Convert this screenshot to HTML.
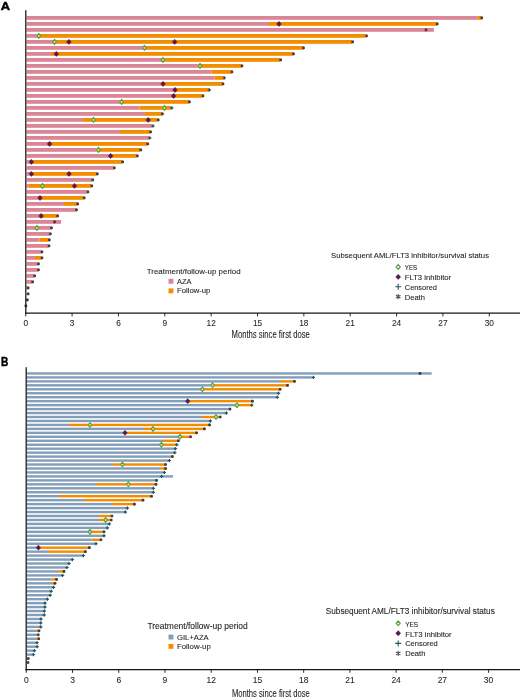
<!DOCTYPE html>
<html><head><meta charset="utf-8"><title>Swimmer plot</title>
<style>html,body{margin:0;padding:0;background:#fff;}svg{display:block;will-change:transform;}</style>
</head><body>
<svg width="520" height="699" viewBox="0 0 520 699" font-family="Liberation Sans, sans-serif">
<rect width="520" height="699" fill="#fff"/>
<text x="0.7" y="9.7" font-size="11.4" font-weight="bold" fill="#000" stroke="#000" stroke-width="0.45" textLength="9.3" lengthAdjust="spacingAndGlyphs">A</text>
<rect x="26.6" y="16" width="451.1" height="3.8" fill="#db8597"/>
<rect x="477.7" y="16" width="3.8" height="3.8" fill="#f48c00"/>
<rect x="26.6" y="22" width="242.4" height="3.8" fill="#db8597"/>
<rect x="269" y="22" width="168" height="3.8" fill="#f48c00"/>
<rect x="26.6" y="28" width="407.2" height="3.8" fill="#db8597"/>
<rect x="26.6" y="34" width="10.9" height="3.8" fill="#db8597"/>
<rect x="37.5" y="34" width="328" height="3.8" fill="#f48c00"/>
<rect x="26.6" y="40" width="27.4" height="3.8" fill="#db8597"/>
<rect x="54" y="40" width="298" height="3.8" fill="#f48c00"/>
<rect x="26.6" y="46" width="116.1" height="3.8" fill="#db8597"/>
<rect x="142.7" y="46" width="160.3" height="3.8" fill="#f48c00"/>
<rect x="26.6" y="52" width="24.4" height="3.8" fill="#db8597"/>
<rect x="51" y="52" width="242" height="3.8" fill="#f48c00"/>
<rect x="26.6" y="58" width="134.4" height="3.8" fill="#db8597"/>
<rect x="161" y="58" width="119" height="3.8" fill="#f48c00"/>
<rect x="26.6" y="64" width="171" height="3.8" fill="#db8597"/>
<rect x="197.6" y="64" width="43.9" height="3.8" fill="#f48c00"/>
<rect x="26.6" y="70" width="184.8" height="3.8" fill="#db8597"/>
<rect x="211.4" y="70" width="20.1" height="3.8" fill="#f48c00"/>
<rect x="26.6" y="76" width="187.9" height="3.8" fill="#db8597"/>
<rect x="214.5" y="76" width="9.5" height="3.8" fill="#f48c00"/>
<rect x="26.6" y="82" width="134.4" height="3.8" fill="#db8597"/>
<rect x="161" y="82" width="61.7" height="3.8" fill="#f48c00"/>
<rect x="26.6" y="88" width="147.4" height="3.8" fill="#db8597"/>
<rect x="174" y="88" width="35" height="3.8" fill="#f48c00"/>
<rect x="26.6" y="94" width="145.8" height="3.8" fill="#db8597"/>
<rect x="172.4" y="94" width="30.2" height="3.8" fill="#f48c00"/>
<rect x="26.6" y="100" width="93.9" height="3.8" fill="#db8597"/>
<rect x="120.5" y="100" width="68.3" height="3.8" fill="#f48c00"/>
<rect x="26.6" y="106" width="112.9" height="3.8" fill="#db8597"/>
<rect x="139.5" y="106" width="31.8" height="3.8" fill="#f48c00"/>
<rect x="26.6" y="112" width="118.4" height="3.8" fill="#db8597"/>
<rect x="145" y="112" width="17" height="3.8" fill="#f48c00"/>
<rect x="26.6" y="118" width="56.4" height="3.8" fill="#db8597"/>
<rect x="83" y="118" width="74.6" height="3.8" fill="#f48c00"/>
<rect x="26.6" y="124" width="125.8" height="3.8" fill="#db8597"/>
<rect x="26.6" y="130" width="93.4" height="3.8" fill="#db8597"/>
<rect x="120" y="130" width="30.2" height="3.8" fill="#f48c00"/>
<rect x="26.6" y="136" width="122.6" height="3.8" fill="#db8597"/>
<rect x="26.6" y="142" width="21.4" height="3.8" fill="#db8597"/>
<rect x="48" y="142" width="99.2" height="3.8" fill="#f48c00"/>
<rect x="26.6" y="148" width="70" height="3.8" fill="#db8597"/>
<rect x="96.6" y="148" width="43.6" height="3.8" fill="#f48c00"/>
<rect x="26.6" y="154" width="82.4" height="3.8" fill="#db8597"/>
<rect x="109" y="154" width="27.6" height="3.8" fill="#f48c00"/>
<rect x="26.6" y="160" width="3.4" height="3.8" fill="#db8597"/>
<rect x="30" y="160" width="92" height="3.8" fill="#f48c00"/>
<rect x="26.6" y="166" width="87.2" height="3.8" fill="#db8597"/>
<rect x="26.6" y="172" width="3.4" height="3.8" fill="#db8597"/>
<rect x="30" y="172" width="66.8" height="3.8" fill="#f48c00"/>
<rect x="26.6" y="178" width="65.6" height="3.8" fill="#db8597"/>
<rect x="26.6" y="184" width="1.9" height="3.8" fill="#db8597"/>
<rect x="28.5" y="184" width="62.7" height="3.8" fill="#f48c00"/>
<rect x="26.6" y="190" width="60.8" height="3.8" fill="#db8597"/>
<rect x="26.6" y="196" width="12.4" height="3.8" fill="#db8597"/>
<rect x="39" y="196" width="44.6" height="3.8" fill="#f48c00"/>
<rect x="26.6" y="202" width="37.4" height="3.8" fill="#db8597"/>
<rect x="64" y="202" width="13.2" height="3.8" fill="#f48c00"/>
<rect x="26.6" y="208" width="49.4" height="3.8" fill="#db8597"/>
<rect x="26.6" y="214" width="13.4" height="3.8" fill="#db8597"/>
<rect x="40" y="214" width="17.2" height="3.8" fill="#f48c00"/>
<rect x="26.6" y="220" width="34.4" height="3.8" fill="#db8597"/>
<rect x="26.6" y="226" width="24.2" height="3.8" fill="#db8597"/>
<rect x="26.6" y="232" width="23" height="3.8" fill="#db8597"/>
<rect x="26.6" y="238" width="13" height="3.8" fill="#db8597"/>
<rect x="39.6" y="238" width="9" height="3.8" fill="#f48c00"/>
<rect x="26.6" y="244" width="21.8" height="3.8" fill="#db8597"/>
<rect x="26.6" y="250" width="14.8" height="3.8" fill="#db8597"/>
<rect x="26.6" y="256" width="8.4" height="3.8" fill="#db8597"/>
<rect x="35" y="256" width="6.4" height="3.8" fill="#f48c00"/>
<rect x="26.6" y="262" width="11.2" height="3.8" fill="#db8597"/>
<rect x="26.6" y="268" width="11.2" height="3.8" fill="#db8597"/>
<rect x="26.6" y="274" width="7.4" height="3.8" fill="#db8597"/>
<rect x="26.6" y="280" width="5.4" height="3.8" fill="#db8597"/>
<rect x="26.6" y="286" width="1" height="3.8" fill="#db8597"/>
<path d="M481.8 16.5V19.3M480.59 17.2L483.01 18.6M480.59 18.6L483.01 17.2" stroke="#433a3c" stroke-width="0.7" fill="none"/><circle cx="481.8" cy="17.9" r="1.33" fill="#433a3c"/>
<path d="M279 21.2L281.4 23.9L279 26.6L276.6 23.9Z" fill="#561852" stroke="#561852" stroke-width="0.4"/>
<path d="M437.2 22.5V25.3M435.99 23.2L438.41 24.6M435.99 24.6L438.41 23.2" stroke="#433a3c" stroke-width="0.7" fill="none"/><circle cx="437.2" cy="23.9" r="1.33" fill="#433a3c"/>
<path d="M426 28.5V31.3M424.79 29.2L427.21 30.6M424.79 30.6L427.21 29.2" stroke="#433a3c" stroke-width="0.7" fill="none"/><circle cx="426" cy="29.9" r="1.33" fill="#433a3c"/>
<path d="M38.8 33.4L40.7 35.9L38.8 38.4L36.9 35.9Z" fill="#c6df8e" stroke="#5a9f44" stroke-width="1.1"/>
<path d="M366.5 34.5V37.3M365.29 35.2L367.71 36.6M365.29 36.6L367.71 35.2" stroke="#433a3c" stroke-width="0.7" fill="none"/><circle cx="366.5" cy="35.9" r="1.33" fill="#433a3c"/>
<path d="M54.6 39.4L56.5 41.9L54.6 44.4L52.7 41.9Z" fill="#c6df8e" stroke="#5a9f44" stroke-width="1.1"/>
<path d="M68.9 39.2L71.3 41.9L68.9 44.6L66.5 41.9Z" fill="#561852" stroke="#561852" stroke-width="0.4"/>
<path d="M174.7 39.2L177.1 41.9L174.7 44.6L172.3 41.9Z" fill="#561852" stroke="#561852" stroke-width="0.4"/>
<path d="M352.7 40.5V43.3M351.49 41.2L353.91 42.6M351.49 42.6L353.91 41.2" stroke="#433a3c" stroke-width="0.7" fill="none"/><circle cx="352.7" cy="41.9" r="1.33" fill="#433a3c"/>
<path d="M144.4 45.4L146.3 47.9L144.4 50.4L142.5 47.9Z" fill="#c6df8e" stroke="#5a9f44" stroke-width="1.1"/>
<path d="M303.5 46.5V49.3M302.29 47.2L304.71 48.6M302.29 48.6L304.71 47.2" stroke="#433a3c" stroke-width="0.7" fill="none"/><circle cx="303.5" cy="47.9" r="1.33" fill="#433a3c"/>
<path d="M56.3 51.2L58.7 53.9L56.3 56.6L53.9 53.9Z" fill="#561852" stroke="#561852" stroke-width="0.4"/>
<path d="M293.5 52.5V55.3M292.29 53.2L294.71 54.6M292.29 54.6L294.71 53.2" stroke="#433a3c" stroke-width="0.7" fill="none"/><circle cx="293.5" cy="53.9" r="1.33" fill="#433a3c"/>
<path d="M162.9 57.4L164.8 59.9L162.9 62.4L161 59.9Z" fill="#c6df8e" stroke="#5a9f44" stroke-width="1.1"/>
<path d="M280.7 58.5V61.3M279.49 59.2L281.91 60.6M279.49 60.6L281.91 59.2" stroke="#433a3c" stroke-width="0.7" fill="none"/><circle cx="280.7" cy="59.9" r="1.33" fill="#433a3c"/>
<path d="M200 63.4L201.9 65.9L200 68.4L198.1 65.9Z" fill="#c6df8e" stroke="#5a9f44" stroke-width="1.1"/>
<path d="M242 64.5V67.3M240.79 65.2L243.21 66.6M240.79 66.6L243.21 65.2" stroke="#433a3c" stroke-width="0.7" fill="none"/><circle cx="242" cy="65.9" r="1.33" fill="#433a3c"/>
<path d="M232 70.5V73.3M230.79 71.2L233.21 72.6M230.79 72.6L233.21 71.2" stroke="#433a3c" stroke-width="0.7" fill="none"/><circle cx="232" cy="71.9" r="1.33" fill="#433a3c"/>
<path d="M224.4 76.22V79.58M222.72 77.9H226.08" stroke="#24555c" stroke-width="1.0" fill="none"/><path d="M224.4 76.64L225.66 77.9L224.4 79.16L223.14 77.9Z" fill="#24555c"/>
<path d="M163 81.2L165.4 83.9L163 86.6L160.6 83.9Z" fill="#561852" stroke="#561852" stroke-width="0.4"/>
<path d="M223 82.5V85.3M221.79 83.2L224.21 84.6M221.79 84.6L224.21 83.2" stroke="#433a3c" stroke-width="0.7" fill="none"/><circle cx="223" cy="83.9" r="1.33" fill="#433a3c"/>
<path d="M175 87.2L177.4 89.9L175 92.6L172.6 89.9Z" fill="#561852" stroke="#561852" stroke-width="0.4"/>
<path d="M209.4 88.22V91.58M207.72 89.9H211.08" stroke="#24555c" stroke-width="1.0" fill="none"/><path d="M209.4 88.64L210.66 89.9L209.4 91.16L208.14 89.9Z" fill="#24555c"/>
<path d="M173.6 93.2L176 95.9L173.6 98.6L171.2 95.9Z" fill="#561852" stroke="#561852" stroke-width="0.4"/>
<path d="M203 94.5V97.3M201.79 95.2L204.21 96.6M201.79 96.6L204.21 95.2" stroke="#433a3c" stroke-width="0.7" fill="none"/><circle cx="203" cy="95.9" r="1.33" fill="#433a3c"/>
<path d="M121.6 99.4L123.5 101.9L121.6 104.4L119.7 101.9Z" fill="#c6df8e" stroke="#5a9f44" stroke-width="1.1"/>
<path d="M189.4 100.5V103.3M188.19 101.2L190.61 102.6M188.19 102.6L190.61 101.2" stroke="#433a3c" stroke-width="0.7" fill="none"/><circle cx="189.4" cy="101.9" r="1.33" fill="#433a3c"/>
<path d="M164.4 105.4L166.3 107.9L164.4 110.4L162.5 107.9Z" fill="#c6df8e" stroke="#5a9f44" stroke-width="1.1"/>
<path d="M171.8 106.22V109.58M170.12 107.9H173.48" stroke="#24555c" stroke-width="1.0" fill="none"/><path d="M171.8 106.64L173.06 107.9L171.8 109.16L170.54 107.9Z" fill="#24555c"/>
<path d="M162.4 112.5V115.3M161.19 113.2L163.61 114.6M161.19 114.6L163.61 113.2" stroke="#433a3c" stroke-width="0.7" fill="none"/><circle cx="162.4" cy="113.9" r="1.33" fill="#433a3c"/>
<path d="M93.4 117.4L95.3 119.9L93.4 122.4L91.5 119.9Z" fill="#c6df8e" stroke="#5a9f44" stroke-width="1.1"/>
<path d="M148.2 117.2L150.6 119.9L148.2 122.6L145.8 119.9Z" fill="#561852" stroke="#561852" stroke-width="0.4"/>
<path d="M158.2 118.5V121.3M156.99 119.2L159.41 120.6M156.99 120.6L159.41 119.2" stroke="#433a3c" stroke-width="0.7" fill="none"/><circle cx="158.2" cy="119.9" r="1.33" fill="#433a3c"/>
<path d="M153 124.22V127.58M151.32 125.9H154.68" stroke="#24555c" stroke-width="1.0" fill="none"/><path d="M153 124.64L154.26 125.9L153 127.16L151.74 125.9Z" fill="#24555c"/>
<path d="M150.6 130.5V133.3M149.39 131.2L151.81 132.6M149.39 132.6L151.81 131.2" stroke="#433a3c" stroke-width="0.7" fill="none"/><circle cx="150.6" cy="131.9" r="1.33" fill="#433a3c"/>
<path d="M149.8 136.22V139.58M148.12 137.9H151.48" stroke="#24555c" stroke-width="1.0" fill="none"/><path d="M149.8 136.64L151.06 137.9L149.8 139.16L148.54 137.9Z" fill="#24555c"/>
<path d="M49.6 141.2L52 143.9L49.6 146.6L47.2 143.9Z" fill="#561852" stroke="#561852" stroke-width="0.4"/>
<path d="M147.8 142.5V145.3M146.59 143.2L149.01 144.6M146.59 144.6L149.01 143.2" stroke="#433a3c" stroke-width="0.7" fill="none"/><circle cx="147.8" cy="143.9" r="1.33" fill="#433a3c"/>
<path d="M98.4 147.4L100.3 149.9L98.4 152.4L96.5 149.9Z" fill="#c6df8e" stroke="#5a9f44" stroke-width="1.1"/>
<path d="M140.8 148.5V151.3M139.59 149.2L142.01 150.6M139.59 150.6L142.01 149.2" stroke="#433a3c" stroke-width="0.7" fill="none"/><circle cx="140.8" cy="149.9" r="1.33" fill="#433a3c"/>
<path d="M110.6 153.2L113 155.9L110.6 158.6L108.2 155.9Z" fill="#561852" stroke="#561852" stroke-width="0.4"/>
<path d="M137.3 154.5V157.3M136.09 155.2L138.51 156.6M136.09 156.6L138.51 155.2" stroke="#433a3c" stroke-width="0.7" fill="none"/><circle cx="137.3" cy="155.9" r="1.33" fill="#433a3c"/>
<path d="M31.4 159.2L33.8 161.9L31.4 164.6L29 161.9Z" fill="#561852" stroke="#561852" stroke-width="0.4"/>
<path d="M122.7 160.5V163.3M121.49 161.2L123.91 162.6M121.49 162.6L123.91 161.2" stroke="#433a3c" stroke-width="0.7" fill="none"/><circle cx="122.7" cy="161.9" r="1.33" fill="#433a3c"/>
<path d="M114.3 166.5V169.3M113.09 167.2L115.51 168.6M113.09 168.6L115.51 167.2" stroke="#433a3c" stroke-width="0.7" fill="none"/><circle cx="114.3" cy="167.9" r="1.33" fill="#433a3c"/>
<path d="M31.4 171.2L33.8 173.9L31.4 176.6L29 173.9Z" fill="#561852" stroke="#561852" stroke-width="0.4"/>
<path d="M69 171.2L71.4 173.9L69 176.6L66.6 173.9Z" fill="#561852" stroke="#561852" stroke-width="0.4"/>
<path d="M97.3 172.5V175.3M96.09 173.2L98.51 174.6M96.09 174.6L98.51 173.2" stroke="#433a3c" stroke-width="0.7" fill="none"/><circle cx="97.3" cy="173.9" r="1.33" fill="#433a3c"/>
<path d="M92.8 178.5V181.3M91.59 179.2L94.01 180.6M91.59 180.6L94.01 179.2" stroke="#433a3c" stroke-width="0.7" fill="none"/><circle cx="92.8" cy="179.9" r="1.33" fill="#433a3c"/>
<path d="M42.5 183.4L44.4 185.9L42.5 188.4L40.6 185.9Z" fill="#c6df8e" stroke="#5a9f44" stroke-width="1.1"/>
<path d="M74.5 183.2L76.9 185.9L74.5 188.6L72.1 185.9Z" fill="#561852" stroke="#561852" stroke-width="0.4"/>
<path d="M91.8 184.5V187.3M90.59 185.2L93.01 186.6M90.59 186.6L93.01 185.2" stroke="#433a3c" stroke-width="0.7" fill="none"/><circle cx="91.8" cy="185.9" r="1.33" fill="#433a3c"/>
<path d="M88 190.5V193.3M86.79 191.2L89.21 192.6M86.79 192.6L89.21 191.2" stroke="#433a3c" stroke-width="0.7" fill="none"/><circle cx="88" cy="191.9" r="1.33" fill="#433a3c"/>
<path d="M40 195.2L42.4 197.9L40 200.6L37.6 197.9Z" fill="#561852" stroke="#561852" stroke-width="0.4"/>
<path d="M84.2 196.5V199.3M82.99 197.2L85.41 198.6M82.99 198.6L85.41 197.2" stroke="#433a3c" stroke-width="0.7" fill="none"/><circle cx="84.2" cy="197.9" r="1.33" fill="#433a3c"/>
<path d="M77.7 202.5V205.3M76.49 203.2L78.91 204.6M76.49 204.6L78.91 203.2" stroke="#433a3c" stroke-width="0.7" fill="none"/><circle cx="77.7" cy="203.9" r="1.33" fill="#433a3c"/>
<path d="M76.5 208.5V211.3M75.29 209.2L77.71 210.6M75.29 210.6L77.71 209.2" stroke="#433a3c" stroke-width="0.7" fill="none"/><circle cx="76.5" cy="209.9" r="1.33" fill="#433a3c"/>
<path d="M41.1 213.2L43.5 215.9L41.1 218.6L38.7 215.9Z" fill="#561852" stroke="#561852" stroke-width="0.4"/>
<path d="M57.7 214.5V217.3M56.49 215.2L58.91 216.6M56.49 216.6L58.91 215.2" stroke="#433a3c" stroke-width="0.7" fill="none"/><circle cx="57.7" cy="215.9" r="1.33" fill="#433a3c"/>
<path d="M54.6 220.5V223.3M53.39 221.2L55.81 222.6M53.39 222.6L55.81 221.2" stroke="#433a3c" stroke-width="0.7" fill="none"/><circle cx="54.6" cy="221.9" r="1.33" fill="#433a3c"/>
<path d="M36.9 225.4L38.8 227.9L36.9 230.4L35 227.9Z" fill="#c6df8e" stroke="#5a9f44" stroke-width="1.1"/>
<path d="M51.5 226.5V229.3M50.29 227.2L52.71 228.6M50.29 228.6L52.71 227.2" stroke="#433a3c" stroke-width="0.7" fill="none"/><circle cx="51.5" cy="227.9" r="1.33" fill="#433a3c"/>
<path d="M50.3 232.5V235.3M49.09 233.2L51.51 234.6M49.09 234.6L51.51 233.2" stroke="#433a3c" stroke-width="0.7" fill="none"/><circle cx="50.3" cy="233.9" r="1.33" fill="#433a3c"/>
<path d="M49.3 238.5V241.3M48.09 239.2L50.51 240.6M48.09 240.6L50.51 239.2" stroke="#433a3c" stroke-width="0.7" fill="none"/><circle cx="49.3" cy="239.9" r="1.33" fill="#433a3c"/>
<path d="M49 244.5V247.3M47.79 245.2L50.21 246.6M47.79 246.6L50.21 245.2" stroke="#433a3c" stroke-width="0.7" fill="none"/><circle cx="49" cy="245.9" r="1.33" fill="#433a3c"/>
<path d="M42 250.5V253.3M40.79 251.2L43.21 252.6M40.79 252.6L43.21 251.2" stroke="#433a3c" stroke-width="0.7" fill="none"/><circle cx="42" cy="251.9" r="1.33" fill="#433a3c"/>
<path d="M42 256.5V259.3M40.79 257.2L43.21 258.6M40.79 258.6L43.21 257.2" stroke="#433a3c" stroke-width="0.7" fill="none"/><circle cx="42" cy="257.9" r="1.33" fill="#433a3c"/>
<path d="M38.5 262.5V265.3M37.29 263.2L39.71 264.6M37.29 264.6L39.71 263.2" stroke="#433a3c" stroke-width="0.7" fill="none"/><circle cx="38.5" cy="263.9" r="1.33" fill="#433a3c"/>
<path d="M38.4 268.5V271.3M37.19 269.2L39.61 270.6M37.19 270.6L39.61 269.2" stroke="#433a3c" stroke-width="0.7" fill="none"/><circle cx="38.4" cy="269.9" r="1.33" fill="#433a3c"/>
<path d="M34.7 274.5V277.3M33.49 275.2L35.91 276.6M33.49 276.6L35.91 275.2" stroke="#433a3c" stroke-width="0.7" fill="none"/><circle cx="34.7" cy="275.9" r="1.33" fill="#433a3c"/>
<path d="M32.7 280.5V283.3M31.49 281.2L33.91 282.6M31.49 282.6L33.91 281.2" stroke="#433a3c" stroke-width="0.7" fill="none"/><circle cx="32.7" cy="281.9" r="1.33" fill="#433a3c"/>
<path d="M28.1 286.5V289.3M26.89 287.2L29.31 288.6M26.89 288.6L29.31 287.2" stroke="#433a3c" stroke-width="0.7" fill="none"/><circle cx="28.1" cy="287.9" r="1.33" fill="#433a3c"/>
<path d="M28.1 292.5V295.3M26.89 293.2L29.31 294.6M26.89 294.6L29.31 293.2" stroke="#433a3c" stroke-width="0.7" fill="none"/><circle cx="28.1" cy="293.9" r="1.33" fill="#433a3c"/>
<path d="M27.3 298.5V301.3M26.09 299.2L28.51 300.6M26.09 300.6L28.51 299.2" stroke="#433a3c" stroke-width="0.7" fill="none"/><circle cx="27.3" cy="299.9" r="1.33" fill="#433a3c"/>
<path d="M25.9 304.5V307.3M24.69 305.2L27.11 306.6M24.69 306.6L27.11 305.2" stroke="#433a3c" stroke-width="0.7" fill="none"/><circle cx="25.9" cy="305.9" r="1.33" fill="#433a3c"/>
<line x1="25.8" y1="10.2" x2="25.8" y2="313.8" stroke="#151515" stroke-width="1.25"/>
<line x1="25.2" y1="313.2" x2="520" y2="313.2" stroke="#151515" stroke-width="1.25"/>
<line x1="25.75" y1="313.2" x2="25.75" y2="316.4" stroke="#151515" stroke-width="0.9"/>
<text x="25.75" y="325.8" font-size="8.3" text-anchor="middle" fill="#231f20" stroke="#231f20" stroke-width="0.08">0</text>
<line x1="72.1" y1="313.2" x2="72.1" y2="316.4" stroke="#151515" stroke-width="0.9"/>
<text x="72.1" y="325.8" font-size="8.3" text-anchor="middle" fill="#231f20" stroke="#231f20" stroke-width="0.08">3</text>
<line x1="118.45" y1="313.2" x2="118.45" y2="316.4" stroke="#151515" stroke-width="0.9"/>
<text x="118.45" y="325.8" font-size="8.3" text-anchor="middle" fill="#231f20" stroke="#231f20" stroke-width="0.08">6</text>
<line x1="164.8" y1="313.2" x2="164.8" y2="316.4" stroke="#151515" stroke-width="0.9"/>
<text x="164.8" y="325.8" font-size="8.3" text-anchor="middle" fill="#231f20" stroke="#231f20" stroke-width="0.08">9</text>
<line x1="211.15" y1="313.2" x2="211.15" y2="316.4" stroke="#151515" stroke-width="0.9"/>
<text x="211.15" y="325.8" font-size="8.3" text-anchor="middle" fill="#231f20" stroke="#231f20" stroke-width="0.08">12</text>
<line x1="257.5" y1="313.2" x2="257.5" y2="316.4" stroke="#151515" stroke-width="0.9"/>
<text x="257.5" y="325.8" font-size="8.3" text-anchor="middle" fill="#231f20" stroke="#231f20" stroke-width="0.08">15</text>
<line x1="303.85" y1="313.2" x2="303.85" y2="316.4" stroke="#151515" stroke-width="0.9"/>
<text x="303.85" y="325.8" font-size="8.3" text-anchor="middle" fill="#231f20" stroke="#231f20" stroke-width="0.08">18</text>
<line x1="350.2" y1="313.2" x2="350.2" y2="316.4" stroke="#151515" stroke-width="0.9"/>
<text x="350.2" y="325.8" font-size="8.3" text-anchor="middle" fill="#231f20" stroke="#231f20" stroke-width="0.08">21</text>
<line x1="396.55" y1="313.2" x2="396.55" y2="316.4" stroke="#151515" stroke-width="0.9"/>
<text x="396.55" y="325.8" font-size="8.3" text-anchor="middle" fill="#231f20" stroke="#231f20" stroke-width="0.08">24</text>
<line x1="442.9" y1="313.2" x2="442.9" y2="316.4" stroke="#151515" stroke-width="0.9"/>
<text x="442.9" y="325.8" font-size="8.3" text-anchor="middle" fill="#231f20" stroke="#231f20" stroke-width="0.08">27</text>
<line x1="489.25" y1="313.2" x2="489.25" y2="316.4" stroke="#151515" stroke-width="0.9"/>
<text x="489.25" y="325.8" font-size="8.3" text-anchor="middle" fill="#231f20" stroke="#231f20" stroke-width="0.08">30</text>
<text x="231.6" y="338.1" font-size="10" fill="#231f20" stroke="#231f20" stroke-width="0.1" textLength="78.2" lengthAdjust="spacingAndGlyphs">Months since first dose</text>
<text x="146.8" y="273.5" font-size="8" fill="#231f20" stroke="#231f20" stroke-width="0.1" textLength="93.8" lengthAdjust="spacingAndGlyphs">Treatment/follow-up period</text>
<rect x="168.5" y="278.8" width="4.9" height="4.9" fill="#db8597"/>
<rect x="168.5" y="288.4" width="4.9" height="4.9" fill="#f48c00"/>
<text x="177" y="283.6" font-size="7.7" fill="#231f20" stroke="#231f20" stroke-width="0.1" textLength="14.4" lengthAdjust="spacingAndGlyphs">AZA</text>
<text x="177" y="293.4" font-size="7.7" fill="#231f20" stroke="#231f20" stroke-width="0.1" textLength="33.4" lengthAdjust="spacingAndGlyphs">Follow-up</text>
<text x="331.1" y="257.9" font-size="8.1" fill="#231f20" stroke="#231f20" stroke-width="0.1" textLength="157.9" lengthAdjust="spacingAndGlyphs">Subsequent AML/FLT3 inhibitor/survival status</text>
<path d="M398.2 264.7L400.2 267L398.2 269.3L396.2 267Z" fill="#ffffff" stroke="#5a9f44" stroke-width="1.2"/>
<path d="M398.2 274.2L400.7 276.9L398.2 279.6L395.7 276.9Z" fill="#561852" stroke="#561852" stroke-width="0.4"/>
<path d="M398.2 283.7V289.7M395.2 286.7H401.2" stroke="#24555c" stroke-width="1.1"/>
<path d="M398.2 294V299.2M395.95 295.3L400.45 297.9M395.95 297.9L400.45 295.3" stroke="#4a5458" stroke-width="1.1" fill="none"/>
<text x="404.8" y="270.3" font-size="7.6" fill="#231f20" stroke="#231f20" stroke-width="0.1" textLength="12.3" lengthAdjust="spacingAndGlyphs">YES</text>
<text x="404.8" y="280" font-size="7.6" fill="#231f20" stroke="#231f20" stroke-width="0.1" textLength="46.3" lengthAdjust="spacingAndGlyphs">FLT3 inhibitor</text>
<text x="404.8" y="289.8" font-size="7.6" fill="#231f20" stroke="#231f20" stroke-width="0.1" textLength="32.1" lengthAdjust="spacingAndGlyphs">Censored</text>
<text x="404.8" y="299.6" font-size="7.6" fill="#231f20" stroke="#231f20" stroke-width="0.1" textLength="20.1" lengthAdjust="spacingAndGlyphs">Death</text>
<text x="0.9" y="365.6" font-size="12.0" font-weight="bold" fill="#000" stroke="#000" stroke-width="0.45" textLength="7.3" lengthAdjust="spacingAndGlyphs">B</text>
<rect x="26.6" y="372.25" width="405.1" height="2.4" fill="#829eba"/>
<rect x="26.6" y="376.21" width="286.7" height="2.4" fill="#829eba"/>
<rect x="26.6" y="380.17" width="253.4" height="2.4" fill="#829eba"/>
<rect x="280" y="380.17" width="14.2" height="2.4" fill="#f48c00"/>
<rect x="26.6" y="384.13" width="184.4" height="2.4" fill="#829eba"/>
<rect x="211" y="384.13" width="76.3" height="2.4" fill="#f48c00"/>
<rect x="26.6" y="388.09" width="174.4" height="2.4" fill="#829eba"/>
<rect x="201" y="388.09" width="78.8" height="2.4" fill="#f48c00"/>
<rect x="26.6" y="392.05" width="251.7" height="2.4" fill="#829eba"/>
<rect x="26.6" y="396.01" width="250.4" height="2.4" fill="#829eba"/>
<rect x="26.6" y="399.97" width="159.9" height="2.4" fill="#829eba"/>
<rect x="186.5" y="399.97" width="65.5" height="2.4" fill="#f48c00"/>
<rect x="26.6" y="403.93" width="209.4" height="2.4" fill="#829eba"/>
<rect x="236" y="403.93" width="15.6" height="2.4" fill="#f48c00"/>
<rect x="26.6" y="407.89" width="203" height="2.4" fill="#829eba"/>
<rect x="26.6" y="411.85" width="199.4" height="2.4" fill="#829eba"/>
<rect x="26.6" y="415.81" width="175.4" height="2.4" fill="#829eba"/>
<rect x="202" y="415.81" width="18" height="2.4" fill="#f48c00"/>
<rect x="26.6" y="419.77" width="183.4" height="2.4" fill="#829eba"/>
<rect x="26.6" y="423.73" width="42.4" height="2.4" fill="#829eba"/>
<rect x="69" y="423.73" width="140" height="2.4" fill="#f48c00"/>
<rect x="26.6" y="427.69" width="117.4" height="2.4" fill="#829eba"/>
<rect x="144" y="427.69" width="60" height="2.4" fill="#f48c00"/>
<rect x="26.6" y="431.65" width="97.4" height="2.4" fill="#829eba"/>
<rect x="124" y="431.65" width="72" height="2.4" fill="#f48c00"/>
<rect x="26.6" y="435.61" width="152.4" height="2.4" fill="#829eba"/>
<rect x="179" y="435.61" width="11" height="2.4" fill="#f48c00"/>
<rect x="26.6" y="439.57" width="136.4" height="2.4" fill="#829eba"/>
<rect x="163" y="439.57" width="15" height="2.4" fill="#f48c00"/>
<rect x="26.6" y="443.53" width="133.4" height="2.4" fill="#829eba"/>
<rect x="160" y="443.53" width="16.4" height="2.4" fill="#f48c00"/>
<rect x="26.6" y="447.49" width="148.4" height="2.4" fill="#829eba"/>
<rect x="26.6" y="451.45" width="147.8" height="2.4" fill="#829eba"/>
<rect x="26.6" y="455.41" width="143.4" height="2.4" fill="#829eba"/>
<rect x="170" y="455.41" width="2" height="2.4" fill="#f48c00"/>
<rect x="26.6" y="459.37" width="142.4" height="2.4" fill="#829eba"/>
<rect x="26.6" y="463.33" width="85.4" height="2.4" fill="#829eba"/>
<rect x="112" y="463.33" width="53" height="2.4" fill="#f48c00"/>
<rect x="26.6" y="467.29" width="133.4" height="2.4" fill="#829eba"/>
<rect x="160" y="467.29" width="5" height="2.4" fill="#f48c00"/>
<rect x="26.6" y="471.25" width="137.4" height="2.4" fill="#829eba"/>
<rect x="26.6" y="475.21" width="146.4" height="2.4" fill="#829eba"/>
<rect x="26.6" y="479.17" width="129.4" height="2.4" fill="#829eba"/>
<rect x="26.6" y="483.13" width="69.4" height="2.4" fill="#829eba"/>
<rect x="96" y="483.13" width="59.6" height="2.4" fill="#f48c00"/>
<rect x="26.6" y="487.09" width="126.4" height="2.4" fill="#829eba"/>
<rect x="26.6" y="491.05" width="126.4" height="2.4" fill="#829eba"/>
<rect x="26.6" y="495.01" width="32.4" height="2.4" fill="#829eba"/>
<rect x="59" y="495.01" width="92" height="2.4" fill="#f48c00"/>
<rect x="26.6" y="498.97" width="57.4" height="2.4" fill="#829eba"/>
<rect x="84" y="498.97" width="58.4" height="2.4" fill="#f48c00"/>
<rect x="26.6" y="502.93" width="85.4" height="2.4" fill="#829eba"/>
<rect x="112" y="502.93" width="22" height="2.4" fill="#f48c00"/>
<rect x="26.6" y="506.89" width="100.4" height="2.4" fill="#829eba"/>
<rect x="26.6" y="510.85" width="98.4" height="2.4" fill="#829eba"/>
<rect x="26.6" y="514.81" width="72.4" height="2.4" fill="#829eba"/>
<rect x="99" y="514.81" width="12" height="2.4" fill="#f48c00"/>
<rect x="26.6" y="518.77" width="72.4" height="2.4" fill="#829eba"/>
<rect x="99" y="518.77" width="11.5" height="2.4" fill="#f48c00"/>
<rect x="26.6" y="522.73" width="82.4" height="2.4" fill="#829eba"/>
<rect x="26.6" y="526.69" width="80.4" height="2.4" fill="#829eba"/>
<rect x="26.6" y="530.65" width="62.4" height="2.4" fill="#829eba"/>
<rect x="89" y="530.65" width="14.6" height="2.4" fill="#f48c00"/>
<rect x="26.6" y="534.61" width="77" height="2.4" fill="#829eba"/>
<rect x="26.6" y="538.57" width="65" height="2.4" fill="#829eba"/>
<rect x="91.6" y="538.57" width="8.8" height="2.4" fill="#f48c00"/>
<rect x="26.6" y="542.53" width="69" height="2.4" fill="#829eba"/>
<rect x="26.6" y="546.49" width="10.4" height="2.4" fill="#829eba"/>
<rect x="37" y="546.49" width="52" height="2.4" fill="#f48c00"/>
<rect x="26.6" y="550.45" width="21.4" height="2.4" fill="#829eba"/>
<rect x="48" y="550.45" width="37" height="2.4" fill="#f48c00"/>
<rect x="26.6" y="554.41" width="56.4" height="2.4" fill="#829eba"/>
<rect x="26.6" y="558.37" width="45.4" height="2.4" fill="#829eba"/>
<rect x="26.6" y="562.33" width="42" height="2.4" fill="#829eba"/>
<rect x="26.6" y="566.29" width="40" height="2.4" fill="#829eba"/>
<rect x="26.6" y="570.25" width="31.4" height="2.4" fill="#829eba"/>
<rect x="58" y="570.25" width="5.5" height="2.4" fill="#f48c00"/>
<rect x="26.6" y="574.21" width="35.4" height="2.4" fill="#829eba"/>
<rect x="26.6" y="578.17" width="25" height="2.4" fill="#829eba"/>
<rect x="51.6" y="578.17" width="4.4" height="2.4" fill="#f48c00"/>
<rect x="26.6" y="582.13" width="25.4" height="2.4" fill="#829eba"/>
<rect x="52" y="582.13" width="2.4" height="2.4" fill="#f48c00"/>
<rect x="26.6" y="586.09" width="26.4" height="2.4" fill="#829eba"/>
<rect x="26.6" y="590.05" width="24" height="2.4" fill="#829eba"/>
<rect x="26.6" y="594.01" width="23" height="2.4" fill="#829eba"/>
<rect x="26.6" y="597.97" width="20.4" height="2.4" fill="#829eba"/>
<rect x="26.6" y="601.93" width="17.8" height="2.4" fill="#829eba"/>
<rect x="26.6" y="605.89" width="17.8" height="2.4" fill="#829eba"/>
<rect x="26.6" y="609.85" width="17.4" height="2.4" fill="#829eba"/>
<rect x="26.6" y="613.81" width="17" height="2.4" fill="#829eba"/>
<rect x="26.6" y="617.77" width="13.9" height="2.4" fill="#829eba"/>
<rect x="26.6" y="621.73" width="13.9" height="2.4" fill="#829eba"/>
<rect x="26.6" y="625.69" width="13.4" height="2.4" fill="#829eba"/>
<rect x="26.6" y="629.65" width="9.4" height="2.4" fill="#829eba"/>
<rect x="36" y="629.65" width="2.5" height="2.4" fill="#f48c00"/>
<rect x="26.6" y="633.61" width="11.4" height="2.4" fill="#829eba"/>
<rect x="26.6" y="637.57" width="9.4" height="2.4" fill="#829eba"/>
<rect x="36" y="637.57" width="2" height="2.4" fill="#f48c00"/>
<rect x="26.6" y="641.53" width="9.9" height="2.4" fill="#829eba"/>
<rect x="26.6" y="645.49" width="9.9" height="2.4" fill="#829eba"/>
<rect x="26.6" y="649.45" width="7.4" height="2.4" fill="#829eba"/>
<rect x="26.6" y="653.41" width="6.4" height="2.4" fill="#829eba"/>
<path d="M420 372.05V374.85M418.79 372.75L421.21 374.15M418.79 374.15L421.21 372.75" stroke="#433a3c" stroke-width="0.7" fill="none"/><circle cx="420" cy="373.45" r="1.33" fill="#433a3c"/>
<path d="M313.5 375.73V379.09M311.82 377.41H315.18" stroke="#24555c" stroke-width="1.0" fill="none"/><path d="M313.5 376.15L314.76 377.41L313.5 378.67L312.24 377.41Z" fill="#24555c"/>
<path d="M294.5 379.97V382.77M293.29 380.67L295.71 382.07M293.29 382.07L295.71 380.67" stroke="#433a3c" stroke-width="0.7" fill="none"/><circle cx="294.5" cy="381.37" r="1.33" fill="#433a3c"/>
<path d="M212.5 382.93L214.4 385.33L212.5 387.73L210.6 385.33Z" fill="#c6df8e" stroke="#5a9f44" stroke-width="1.1"/>
<path d="M287.6 383.93V386.73M286.39 384.63L288.81 386.03M286.39 386.03L288.81 384.63" stroke="#433a3c" stroke-width="0.7" fill="none"/><circle cx="287.6" cy="385.33" r="1.33" fill="#433a3c"/>
<path d="M202.4 386.89L204.3 389.29L202.4 391.69L200.5 389.29Z" fill="#c6df8e" stroke="#5a9f44" stroke-width="1.1"/>
<path d="M280.1 387.89V390.69M278.89 388.59L281.31 389.99M278.89 389.99L281.31 388.59" stroke="#433a3c" stroke-width="0.7" fill="none"/><circle cx="280.1" cy="389.29" r="1.33" fill="#433a3c"/>
<path d="M278.6 391.57V394.93M276.92 393.25H280.28" stroke="#24555c" stroke-width="1.0" fill="none"/><path d="M278.6 391.99L279.86 393.25L278.6 394.51L277.34 393.25Z" fill="#24555c"/>
<path d="M277.4 395.53V398.89M275.72 397.21H279.08" stroke="#24555c" stroke-width="1.0" fill="none"/><path d="M277.4 395.95L278.66 397.21L277.4 398.47L276.14 397.21Z" fill="#24555c"/>
<path d="M187.7 398.57L190 401.17L187.7 403.77L185.4 401.17Z" fill="#561852" stroke="#561852" stroke-width="0.4"/>
<path d="M252.4 399.77V402.57M251.19 400.47L253.61 401.87M251.19 401.87L253.61 400.47" stroke="#433a3c" stroke-width="0.7" fill="none"/><circle cx="252.4" cy="401.17" r="1.33" fill="#433a3c"/>
<path d="M237 402.73L238.9 405.13L237 407.53L235.1 405.13Z" fill="#c6df8e" stroke="#5a9f44" stroke-width="1.1"/>
<path d="M251.8 403.45V406.81M250.12 405.13H253.48" stroke="#24555c" stroke-width="1.0" fill="none"/><path d="M251.8 403.87L253.06 405.13L251.8 406.39L250.54 405.13Z" fill="#24555c"/>
<path d="M230 407.69V410.49M228.79 408.39L231.21 409.79M228.79 409.79L231.21 408.39" stroke="#433a3c" stroke-width="0.7" fill="none"/><circle cx="230" cy="409.09" r="1.33" fill="#433a3c"/>
<path d="M226.4 411.37V414.73M224.72 413.05H228.08" stroke="#24555c" stroke-width="1.0" fill="none"/><path d="M226.4 411.79L227.66 413.05L226.4 414.31L225.14 413.05Z" fill="#24555c"/>
<path d="M216 414.61L217.9 417.01L216 419.41L214.1 417.01Z" fill="#c6df8e" stroke="#5a9f44" stroke-width="1.1"/>
<path d="M220.2 415.61V418.41M218.99 416.31L221.41 417.71M218.99 417.71L221.41 416.31" stroke="#433a3c" stroke-width="0.7" fill="none"/><circle cx="220.2" cy="417.01" r="1.33" fill="#433a3c"/>
<path d="M210.4 419.29V422.65M208.72 420.97H212.08" stroke="#24555c" stroke-width="1.0" fill="none"/><path d="M210.4 419.71L211.66 420.97L210.4 422.23L209.14 420.97Z" fill="#24555c"/>
<path d="M90 422.53L91.9 424.93L90 427.33L88.1 424.93Z" fill="#c6df8e" stroke="#5a9f44" stroke-width="1.1"/>
<path d="M209.6 423.53V426.33M208.39 424.23L210.81 425.63M208.39 425.63L210.81 424.23" stroke="#433a3c" stroke-width="0.7" fill="none"/><circle cx="209.6" cy="424.93" r="1.33" fill="#433a3c"/>
<path d="M153 426.49L154.9 428.89L153 431.29L151.1 428.89Z" fill="#c6df8e" stroke="#5a9f44" stroke-width="1.1"/>
<path d="M204.4 427.49V430.29M203.19 428.19L205.61 429.59M203.19 429.59L205.61 428.19" stroke="#433a3c" stroke-width="0.7" fill="none"/><circle cx="204.4" cy="428.89" r="1.33" fill="#433a3c"/>
<path d="M125 430.25L127.3 432.85L125 435.45L122.7 432.85Z" fill="#561852" stroke="#561852" stroke-width="0.4"/>
<path d="M196.6 431.45V434.25M195.39 432.15L197.81 433.55M195.39 433.55L197.81 432.15" stroke="#433a3c" stroke-width="0.7" fill="none"/><circle cx="196.6" cy="432.85" r="1.33" fill="#433a3c"/>
<path d="M180 434.41L181.9 436.81L180 439.21L178.1 436.81Z" fill="#c6df8e" stroke="#5a9f44" stroke-width="1.1"/>
<path d="M190.6 435.41V438.21M189.39 436.11L191.81 437.51M189.39 437.51L191.81 436.11" stroke="#433a3c" stroke-width="0.7" fill="none"/><circle cx="190.6" cy="436.81" r="1.33" fill="#433a3c"/>
<path d="M178.4 439.37V442.17M177.19 440.07L179.61 441.47M177.19 441.47L179.61 440.07" stroke="#433a3c" stroke-width="0.7" fill="none"/><circle cx="178.4" cy="440.77" r="1.33" fill="#433a3c"/>
<path d="M161.4 442.33L163.3 444.73L161.4 447.13L159.5 444.73Z" fill="#c6df8e" stroke="#5a9f44" stroke-width="1.1"/>
<path d="M176.8 443.05V446.41M175.12 444.73H178.48" stroke="#24555c" stroke-width="1.0" fill="none"/><path d="M176.8 443.47L178.06 444.73L176.8 445.99L175.54 444.73Z" fill="#24555c"/>
<path d="M175.4 447.01V450.37M173.72 448.69H177.08" stroke="#24555c" stroke-width="1.0" fill="none"/><path d="M175.4 447.43L176.66 448.69L175.4 449.95L174.14 448.69Z" fill="#24555c"/>
<path d="M174.8 450.97V454.33M173.12 452.65H176.48" stroke="#24555c" stroke-width="1.0" fill="none"/><path d="M174.8 451.39L176.06 452.65L174.8 453.91L173.54 452.65Z" fill="#24555c"/>
<path d="M172.4 455.21V458.01M171.19 455.91L173.61 457.31M171.19 457.31L173.61 455.91" stroke="#433a3c" stroke-width="0.7" fill="none"/><circle cx="172.4" cy="456.61" r="1.33" fill="#433a3c"/>
<path d="M169.4 458.89V462.25M167.72 460.57H171.08" stroke="#24555c" stroke-width="1.0" fill="none"/><path d="M169.4 459.31L170.66 460.57L169.4 461.83L168.14 460.57Z" fill="#24555c"/>
<path d="M122.4 462.13L124.3 464.53L122.4 466.93L120.5 464.53Z" fill="#c6df8e" stroke="#5a9f44" stroke-width="1.1"/>
<path d="M165.6 463.13V465.93M164.39 463.83L166.81 465.23M164.39 465.23L166.81 463.83" stroke="#433a3c" stroke-width="0.7" fill="none"/><circle cx="165.6" cy="464.53" r="1.33" fill="#433a3c"/>
<path d="M165.6 467.09V469.89M164.39 467.79L166.81 469.19M164.39 469.19L166.81 467.79" stroke="#433a3c" stroke-width="0.7" fill="none"/><circle cx="165.6" cy="468.49" r="1.33" fill="#433a3c"/>
<path d="M164.4 470.77V474.13M162.72 472.45H166.08" stroke="#24555c" stroke-width="1.0" fill="none"/><path d="M164.4 471.19L165.66 472.45L164.4 473.71L163.14 472.45Z" fill="#24555c"/>
<path d="M161.6 474.73V478.09M159.92 476.41H163.28" stroke="#24555c" stroke-width="1.0" fill="none"/><path d="M161.6 475.15L162.86 476.41L161.6 477.67L160.34 476.41Z" fill="#24555c"/>
<path d="M156.6 478.97V481.77M155.39 479.67L157.81 481.07M155.39 481.07L157.81 479.67" stroke="#433a3c" stroke-width="0.7" fill="none"/><circle cx="156.6" cy="480.37" r="1.33" fill="#433a3c"/>
<path d="M128.4 481.93L130.3 484.33L128.4 486.73L126.5 484.33Z" fill="#c6df8e" stroke="#5a9f44" stroke-width="1.1"/>
<path d="M156 482.93V485.73M154.79 483.63L157.21 485.03M154.79 485.03L157.21 483.63" stroke="#433a3c" stroke-width="0.7" fill="none"/><circle cx="156" cy="484.33" r="1.33" fill="#433a3c"/>
<path d="M153.4 486.61V489.97M151.72 488.29H155.08" stroke="#24555c" stroke-width="1.0" fill="none"/><path d="M153.4 487.03L154.66 488.29L153.4 489.55L152.14 488.29Z" fill="#24555c"/>
<path d="M153.4 490.57V493.93M151.72 492.25H155.08" stroke="#24555c" stroke-width="1.0" fill="none"/><path d="M153.4 490.99L154.66 492.25L153.4 493.51L152.14 492.25Z" fill="#24555c"/>
<path d="M151.6 494.81V497.61M150.39 495.51L152.81 496.91M150.39 496.91L152.81 495.51" stroke="#433a3c" stroke-width="0.7" fill="none"/><circle cx="151.6" cy="496.21" r="1.33" fill="#433a3c"/>
<path d="M143 498.77V501.57M141.79 499.47L144.21 500.87M141.79 500.87L144.21 499.47" stroke="#433a3c" stroke-width="0.7" fill="none"/><circle cx="143" cy="500.17" r="1.33" fill="#433a3c"/>
<path d="M134.4 502.73V505.53M133.19 503.43L135.61 504.83M133.19 504.83L135.61 503.43" stroke="#433a3c" stroke-width="0.7" fill="none"/><circle cx="134.4" cy="504.13" r="1.33" fill="#433a3c"/>
<path d="M127.4 506.41V509.77M125.72 508.09H129.08" stroke="#24555c" stroke-width="1.0" fill="none"/><path d="M127.4 506.83L128.66 508.09L127.4 509.35L126.14 508.09Z" fill="#24555c"/>
<path d="M125.4 510.37V513.73M123.72 512.05H127.08" stroke="#24555c" stroke-width="1.0" fill="none"/><path d="M125.4 510.79L126.66 512.05L125.4 513.31L124.14 512.05Z" fill="#24555c"/>
<path d="M112 514.61V517.41M110.79 515.31L113.21 516.71M110.79 516.71L113.21 515.31" stroke="#433a3c" stroke-width="0.7" fill="none"/><circle cx="112" cy="516.01" r="1.33" fill="#433a3c"/>
<path d="M105.6 517.57L107.5 519.97L105.6 522.37L103.7 519.97Z" fill="#c6df8e" stroke="#5a9f44" stroke-width="1.1"/>
<path d="M111.2 518.57V521.37M109.99 519.27L112.41 520.67M109.99 520.67L112.41 519.27" stroke="#433a3c" stroke-width="0.7" fill="none"/><circle cx="111.2" cy="519.97" r="1.33" fill="#433a3c"/>
<path d="M109.4 522.25V525.61M107.72 523.93H111.08" stroke="#24555c" stroke-width="1.0" fill="none"/><path d="M109.4 522.67L110.66 523.93L109.4 525.19L108.14 523.93Z" fill="#24555c"/>
<path d="M107.4 526.21V529.57M105.72 527.89H109.08" stroke="#24555c" stroke-width="1.0" fill="none"/><path d="M107.4 526.63L108.66 527.89L107.4 529.15L106.14 527.89Z" fill="#24555c"/>
<path d="M90 529.45L91.9 531.85L90 534.25L88.1 531.85Z" fill="#c6df8e" stroke="#5a9f44" stroke-width="1.1"/>
<path d="M104 530.45V533.25M102.79 531.15L105.21 532.55M102.79 532.55L105.21 531.15" stroke="#433a3c" stroke-width="0.7" fill="none"/><circle cx="104" cy="531.85" r="1.33" fill="#433a3c"/>
<path d="M104 534.13V537.49M102.32 535.81H105.68" stroke="#24555c" stroke-width="1.0" fill="none"/><path d="M104 534.55L105.26 535.81L104 537.07L102.74 535.81Z" fill="#24555c"/>
<path d="M101 538.37V541.17M99.79 539.07L102.21 540.47M99.79 540.47L102.21 539.07" stroke="#433a3c" stroke-width="0.7" fill="none"/><circle cx="101" cy="539.77" r="1.33" fill="#433a3c"/>
<path d="M96 542.05V545.41M94.32 543.73H97.68" stroke="#24555c" stroke-width="1.0" fill="none"/><path d="M96 542.47L97.26 543.73L96 544.99L94.74 543.73Z" fill="#24555c"/>
<path d="M38.4 545.09L40.7 547.69L38.4 550.29L36.1 547.69Z" fill="#561852" stroke="#561852" stroke-width="0.4"/>
<path d="M89.4 546.29V549.09M88.19 546.99L90.61 548.39M88.19 548.39L90.61 546.99" stroke="#433a3c" stroke-width="0.7" fill="none"/><circle cx="89.4" cy="547.69" r="1.33" fill="#433a3c"/>
<path d="M85.4 550.25V553.05M84.19 550.95L86.61 552.35M84.19 552.35L86.61 550.95" stroke="#433a3c" stroke-width="0.7" fill="none"/><circle cx="85.4" cy="551.65" r="1.33" fill="#433a3c"/>
<path d="M83.4 553.93V557.29M81.72 555.61H85.08" stroke="#24555c" stroke-width="1.0" fill="none"/><path d="M83.4 554.35L84.66 555.61L83.4 556.87L82.14 555.61Z" fill="#24555c"/>
<path d="M72.4 557.89V561.25M70.72 559.57H74.08" stroke="#24555c" stroke-width="1.0" fill="none"/><path d="M72.4 558.31L73.66 559.57L72.4 560.83L71.14 559.57Z" fill="#24555c"/>
<path d="M69 561.85V565.21M67.32 563.53H70.68" stroke="#24555c" stroke-width="1.0" fill="none"/><path d="M69 562.27L70.26 563.53L69 564.79L67.74 563.53Z" fill="#24555c"/>
<path d="M67 565.81V569.17M65.32 567.49H68.68" stroke="#24555c" stroke-width="1.0" fill="none"/><path d="M67 566.23L68.26 567.49L67 568.75L65.74 567.49Z" fill="#24555c"/>
<path d="M64 570.05V572.85M62.79 570.75L65.21 572.15M62.79 572.15L65.21 570.75" stroke="#433a3c" stroke-width="0.7" fill="none"/><circle cx="64" cy="571.45" r="1.33" fill="#433a3c"/>
<path d="M62.6 573.73V577.09M60.92 575.41H64.28" stroke="#24555c" stroke-width="1.0" fill="none"/><path d="M62.6 574.15L63.86 575.41L62.6 576.67L61.34 575.41Z" fill="#24555c"/>
<path d="M56.6 577.97V580.77M55.39 578.67L57.81 580.07M55.39 580.07L57.81 578.67" stroke="#433a3c" stroke-width="0.7" fill="none"/><circle cx="56.6" cy="579.37" r="1.33" fill="#433a3c"/>
<path d="M55 581.93V584.73M53.79 582.63L56.21 584.03M53.79 584.03L56.21 582.63" stroke="#433a3c" stroke-width="0.7" fill="none"/><circle cx="55" cy="583.33" r="1.33" fill="#433a3c"/>
<path d="M53.6 585.61V588.97M51.92 587.29H55.28" stroke="#24555c" stroke-width="1.0" fill="none"/><path d="M53.6 586.03L54.86 587.29L53.6 588.55L52.34 587.29Z" fill="#24555c"/>
<path d="M51.2 589.57V592.93M49.52 591.25H52.88" stroke="#24555c" stroke-width="1.0" fill="none"/><path d="M51.2 589.99L52.46 591.25L51.2 592.51L49.94 591.25Z" fill="#24555c"/>
<path d="M50.2 593.53V596.89M48.52 595.21H51.88" stroke="#24555c" stroke-width="1.0" fill="none"/><path d="M50.2 593.95L51.46 595.21L50.2 596.47L48.94 595.21Z" fill="#24555c"/>
<path d="M47.4 597.49V600.85M45.72 599.17H49.08" stroke="#24555c" stroke-width="1.0" fill="none"/><path d="M47.4 597.91L48.66 599.17L47.4 600.43L46.14 599.17Z" fill="#24555c"/>
<path d="M45 601.45V604.81M43.32 603.13H46.68" stroke="#24555c" stroke-width="1.0" fill="none"/><path d="M45 601.87L46.26 603.13L45 604.39L43.74 603.13Z" fill="#24555c"/>
<path d="M45 605.41V608.77M43.32 607.09H46.68" stroke="#24555c" stroke-width="1.0" fill="none"/><path d="M45 605.83L46.26 607.09L45 608.35L43.74 607.09Z" fill="#24555c"/>
<path d="M44.4 609.37V612.73M42.72 611.05H46.08" stroke="#24555c" stroke-width="1.0" fill="none"/><path d="M44.4 609.79L45.66 611.05L44.4 612.31L43.14 611.05Z" fill="#24555c"/>
<path d="M44.2 613.33V616.69M42.52 615.01H45.88" stroke="#24555c" stroke-width="1.0" fill="none"/><path d="M44.2 613.75L45.46 615.01L44.2 616.27L42.94 615.01Z" fill="#24555c"/>
<path d="M41 617.29V620.65M39.32 618.97H42.68" stroke="#24555c" stroke-width="1.0" fill="none"/><path d="M41 617.71L42.26 618.97L41 620.23L39.74 618.97Z" fill="#24555c"/>
<path d="M40.8 621.25V624.61M39.12 622.93H42.48" stroke="#24555c" stroke-width="1.0" fill="none"/><path d="M40.8 621.67L42.06 622.93L40.8 624.19L39.54 622.93Z" fill="#24555c"/>
<path d="M40.8 625.21V628.57M39.12 626.89H42.48" stroke="#24555c" stroke-width="1.0" fill="none"/><path d="M40.8 625.63L42.06 626.89L40.8 628.15L39.54 626.89Z" fill="#24555c"/>
<path d="M39 629.45V632.25M37.79 630.15L40.21 631.55M37.79 631.55L40.21 630.15" stroke="#433a3c" stroke-width="0.7" fill="none"/><circle cx="39" cy="630.85" r="1.33" fill="#433a3c"/>
<path d="M38.3 633.13V636.49M36.62 634.81H39.98" stroke="#24555c" stroke-width="1.0" fill="none"/><path d="M38.3 633.55L39.56 634.81L38.3 636.07L37.04 634.81Z" fill="#24555c"/>
<path d="M38.8 637.37V640.17M37.59 638.07L40.01 639.47M37.59 639.47L40.01 638.07" stroke="#433a3c" stroke-width="0.7" fill="none"/><circle cx="38.8" cy="638.77" r="1.33" fill="#433a3c"/>
<path d="M37 641.05V644.41M35.32 642.73H38.68" stroke="#24555c" stroke-width="1.0" fill="none"/><path d="M37 641.47L38.26 642.73L37 643.99L35.74 642.73Z" fill="#24555c"/>
<path d="M37.2 645.01V648.37M35.52 646.69H38.88" stroke="#24555c" stroke-width="1.0" fill="none"/><path d="M37.2 645.43L38.46 646.69L37.2 647.95L35.94 646.69Z" fill="#24555c"/>
<path d="M34.5 648.97V652.33M32.82 650.65H36.18" stroke="#24555c" stroke-width="1.0" fill="none"/><path d="M34.5 649.39L35.76 650.65L34.5 651.91L33.24 650.65Z" fill="#24555c"/>
<path d="M33.5 652.93V656.29M31.82 654.61H35.18" stroke="#24555c" stroke-width="1.0" fill="none"/><path d="M33.5 653.35L34.76 654.61L33.5 655.87L32.24 654.61Z" fill="#24555c"/>
<path d="M28.2 657.17V659.97M26.99 657.87L29.41 659.27M26.99 659.27L29.41 657.87" stroke="#433a3c" stroke-width="0.7" fill="none"/><circle cx="28.2" cy="658.57" r="1.33" fill="#433a3c"/>
<path d="M28 661.13V663.93M26.79 661.83L29.21 663.23M26.79 663.23L29.21 661.83" stroke="#433a3c" stroke-width="0.7" fill="none"/><circle cx="28" cy="662.53" r="1.33" fill="#433a3c"/>
<line x1="26.2" y1="367.2" x2="26.2" y2="670.2" stroke="#151515" stroke-width="1.25"/>
<line x1="25.2" y1="669.6" x2="520" y2="669.6" stroke="#151515" stroke-width="1.25"/>
<line x1="26.3" y1="669.6" x2="26.3" y2="672.8" stroke="#151515" stroke-width="0.9"/>
<text x="26.3" y="683" font-size="8.5" text-anchor="middle" fill="#231f20" stroke="#231f20" stroke-width="0.08">0</text>
<line x1="72.53" y1="669.6" x2="72.53" y2="672.8" stroke="#151515" stroke-width="0.9"/>
<text x="72.53" y="683" font-size="8.5" text-anchor="middle" fill="#231f20" stroke="#231f20" stroke-width="0.08">3</text>
<line x1="118.76" y1="669.6" x2="118.76" y2="672.8" stroke="#151515" stroke-width="0.9"/>
<text x="118.76" y="683" font-size="8.5" text-anchor="middle" fill="#231f20" stroke="#231f20" stroke-width="0.08">6</text>
<line x1="164.99" y1="669.6" x2="164.99" y2="672.8" stroke="#151515" stroke-width="0.9"/>
<text x="164.99" y="683" font-size="8.5" text-anchor="middle" fill="#231f20" stroke="#231f20" stroke-width="0.08">9</text>
<line x1="211.22" y1="669.6" x2="211.22" y2="672.8" stroke="#151515" stroke-width="0.9"/>
<text x="211.22" y="683" font-size="8.5" text-anchor="middle" fill="#231f20" stroke="#231f20" stroke-width="0.08">12</text>
<line x1="257.45" y1="669.6" x2="257.45" y2="672.8" stroke="#151515" stroke-width="0.9"/>
<text x="257.45" y="683" font-size="8.5" text-anchor="middle" fill="#231f20" stroke="#231f20" stroke-width="0.08">15</text>
<line x1="303.68" y1="669.6" x2="303.68" y2="672.8" stroke="#151515" stroke-width="0.9"/>
<text x="303.68" y="683" font-size="8.5" text-anchor="middle" fill="#231f20" stroke="#231f20" stroke-width="0.08">18</text>
<line x1="349.91" y1="669.6" x2="349.91" y2="672.8" stroke="#151515" stroke-width="0.9"/>
<text x="349.91" y="683" font-size="8.5" text-anchor="middle" fill="#231f20" stroke="#231f20" stroke-width="0.08">21</text>
<line x1="396.14" y1="669.6" x2="396.14" y2="672.8" stroke="#151515" stroke-width="0.9"/>
<text x="396.14" y="683" font-size="8.5" text-anchor="middle" fill="#231f20" stroke="#231f20" stroke-width="0.08">24</text>
<line x1="442.37" y1="669.6" x2="442.37" y2="672.8" stroke="#151515" stroke-width="0.9"/>
<text x="442.37" y="683" font-size="8.5" text-anchor="middle" fill="#231f20" stroke="#231f20" stroke-width="0.08">27</text>
<line x1="488.6" y1="669.6" x2="488.6" y2="672.8" stroke="#151515" stroke-width="0.9"/>
<text x="488.6" y="683" font-size="8.5" text-anchor="middle" fill="#231f20" stroke="#231f20" stroke-width="0.08">30</text>
<text x="231.9" y="696.5" font-size="10.2" fill="#231f20" stroke="#231f20" stroke-width="0.1" textLength="77.9" lengthAdjust="spacingAndGlyphs">Months since first dose</text>
<text x="147.4" y="629.2" font-size="8.4" fill="#231f20" stroke="#231f20" stroke-width="0.1" textLength="100.4" lengthAdjust="spacingAndGlyphs">Treatment/follow-up period</text>
<rect x="168.5" y="634.6" width="4.9" height="4.9" fill="#829eba"/>
<rect x="168.5" y="643.9" width="4.9" height="4.9" fill="#f48c00"/>
<text x="177" y="639.6" font-size="7.7" fill="#231f20" stroke="#231f20" stroke-width="0.1" textLength="31.7" lengthAdjust="spacingAndGlyphs">GIL+AZA</text>
<text x="177" y="649.3" font-size="7.7" fill="#231f20" stroke="#231f20" stroke-width="0.1" textLength="33.8" lengthAdjust="spacingAndGlyphs">Follow-up</text>
<text x="325.8" y="613.8" font-size="8.4" fill="#231f20" stroke="#231f20" stroke-width="0.1" textLength="169" lengthAdjust="spacingAndGlyphs">Subsequent AML/FLT3 inhibitor/survival status</text>
<path d="M398.2 621L400.2 623.3L398.2 625.6L396.2 623.3Z" fill="#ffffff" stroke="#5a9f44" stroke-width="1.2"/>
<path d="M398.2 630.6L400.7 633.3L398.2 636L395.7 633.3Z" fill="#561852" stroke="#561852" stroke-width="0.4"/>
<path d="M398.2 640.4V646.4M395.2 643.4H401.2" stroke="#24555c" stroke-width="1.1"/>
<path d="M398.2 650.8V656M395.95 652.1L400.45 654.7M395.95 654.7L400.45 652.1" stroke="#4a5458" stroke-width="1.1" fill="none"/>
<text x="405.2" y="626.6" font-size="7.8" fill="#231f20" stroke="#231f20" stroke-width="0.1" textLength="13" lengthAdjust="spacingAndGlyphs">YES</text>
<text x="405.2" y="636.5" font-size="7.8" fill="#231f20" stroke="#231f20" stroke-width="0.1" textLength="46.5" lengthAdjust="spacingAndGlyphs">FLT3 inhibitor</text>
<text x="405.2" y="646.3" font-size="7.8" fill="#231f20" stroke="#231f20" stroke-width="0.1" textLength="32.6" lengthAdjust="spacingAndGlyphs">Censored</text>
<text x="405.2" y="656" font-size="7.8" fill="#231f20" stroke="#231f20" stroke-width="0.1" textLength="20.2" lengthAdjust="spacingAndGlyphs">Death</text>
</svg>
</body></html>
